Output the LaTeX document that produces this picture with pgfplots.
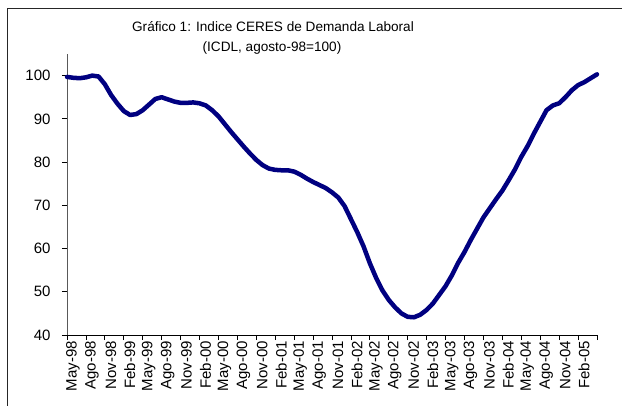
\documentclass[border=0pt]{standalone}
\usepackage{pgfplots}
\pgfplotsset{compat=1.18}
\usepackage{fontspec}
\setmainfont{Liberation Sans}
\definecolor{navyline}{RGB}{0,0,128}
\begin{document}
\begin{tikzpicture}[x=1pt,y=1pt]
\useasboundingbox (0,0) rectangle (622,405);
\begin{scope}
\clip (0,0) rectangle (622,405);
\draw[line width=1pt, black!85] (7,-20) -- (7,396) -- (700,396);
\end{scope}
\node[anchor=base, font=\fontsize{13.6}{16}\selectfont] at (273,373) {Gráfico 1: Indice CERES de Demanda Laboral};
\node[anchor=base, font=\fontsize{13.6}{16}\selectfont] at (272,353) {(ICDL, agosto-98=100)};
\begin{axis}[
  at={(67pt,70pt)}, anchor=south west,
  scale only axis, width=530pt, height=281pt,
  xmin=0, xmax=84, ymin=40, ymax=105,
  axis lines*=left,
  axis line style={black, line width=0.8pt},
  y axis line style={gray!70!black},
  ytick={40,50,60,70,80,90,100},
  xtick={0,3,...,84},
  xticklabels={May-98,Ago-98,Nov-98,Feb-99,May-99,Ago-99,Nov-99,Feb-00,May-00,Ago-00,Nov-00,Feb-01,May-01,Ago-01,Nov-01,Feb-02,May-02,Ago-02,Nov-02,Feb-03,May-03,Ago-03,Nov-03,Feb-04,May-04,Ago-04,Nov-04,Feb-05,{}},
  tick align=outside,
  major tick length=5pt,
  tick style={black, line width=0.8pt},
  xticklabel style={rotate=90, anchor=east, font=\fontsize{15}{15}\selectfont, inner sep=1pt, yshift=-6pt},
  yticklabel style={font=\fontsize{15}{15}\selectfont, xshift=-8pt},
  /pgf/number format/assume math mode=true,
  clip=false,
]
\addplot[color=navyline, line width=4.5pt, line join=round, line cap=round] table[x=m,y=v] {
m v
0 99.7
1 99.5
2 99.4
3 99.6
4 100.0
5 99.8
6 98.0
7 95.5
8 93.5
9 91.8
10 90.9
11 91.1
12 92.0
13 93.3
14 94.6
15 95.0
16 94.5
17 94.0
18 93.7
19 93.7
20 93.8
21 93.6
22 93.1
23 92.0
24 90.6
25 88.8
26 87.0
27 85.3
28 83.6
29 82.0
30 80.5
31 79.3
32 78.5
33 78.2
34 78.1
35 78.1
36 77.8
37 77.1
38 76.2
39 75.4
40 74.7
41 74.0
42 73.0
43 71.8
44 69.8
45 66.8
46 63.8
47 60.5
48 56.6
49 53.2
50 50.3
51 48.1
52 46.4
53 45.0
54 44.2
55 44.1
56 44.7
57 45.8
58 47.3
59 49.3
60 51.3
61 53.8
62 56.7
63 59.2
64 62.0
65 64.6
66 67.2
67 69.3
68 71.4
69 73.4
70 75.8
71 78.3
72 81.2
73 83.7
74 86.6
75 89.3
76 92.0
77 93.1
78 93.6
79 95.0
80 96.6
81 97.8
82 98.5
83 99.4
84 100.3
};
\end{axis}
\end{tikzpicture}
\end{document}
